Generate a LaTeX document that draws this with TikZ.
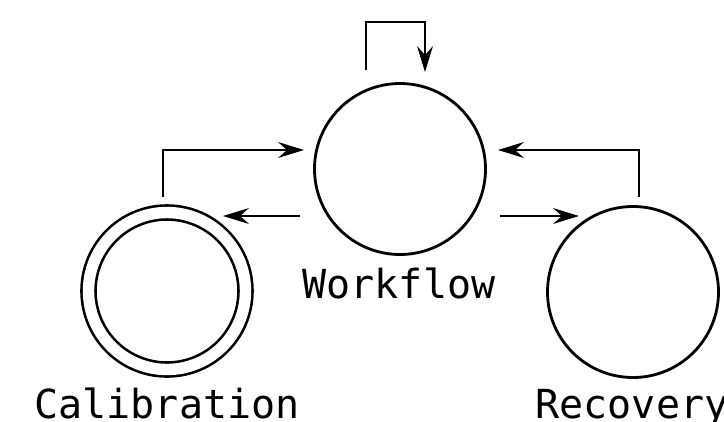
\documentclass[tikz,border=0pt]{standalone}
\usepackage{fontspec}
\setmonofont{DejaVu Sans Mono}
\usetikzlibrary{arrows.meta,calc}
\begin{document}
\begin{tikzpicture}[x=1pt,y=-1pt,
  state/.style={circle,draw,line width=2.8pt,minimum size=171pt,inner sep=0pt},
  accept/.style={circle,draw,line width=2.6pt,double,double distance=11.4pt,minimum size=157pt,inner sep=0pt},
  lbl/.style={font=\ttfamily\fontsize{40}{40}\selectfont,anchor=base,inner sep=0pt},
  conn/.style={line width=1.4pt,-{Stealth[length=26pt,width=16pt,inset=9pt]}}]
\useasboundingbox (0,0) rectangle (724,421);
\node[state] (wf) at (400,169) {};
\node[accept] (cal) at (167,291) {};
\node[state] (rec) at (633,292) {};
\node[lbl] (wfl) at (399,298) {Workflow};
\node[lbl] (call) at (167,418) {Calibration};
\node[lbl] (recl) at (632,418) {Recovery};
% self loop
\coordinate (s1) at ($(wf.center)+(-34,-99)$);
\coordinate (s2) at ($(wf.center)+(25,-147)$);
\coordinate (s3) at ($(wf.center)+(25,-97)$);
\draw[conn] (s1) |- (s2) -- (s3);
% calibration -> workflow
\draw[conn] ($(cal.center)+(-4,-94)$) |- ($(wf.center)+(-96,-19)$);
% workflow -> calibration
\draw[conn] ($(wf.center)+(-100,47)$) -- ($(cal.center)+(56,-75)$);
% workflow -> recovery
\draw[conn] ($(wf.center)+(100,47)$) -- ($(rec.center)+(-54,-76)$);
% recovery -> workflow
\draw[conn] ($(rec.center)+(6,-95)$) |- ($(wf.center)+(98,-19)$);
\end{tikzpicture}
\end{document}
